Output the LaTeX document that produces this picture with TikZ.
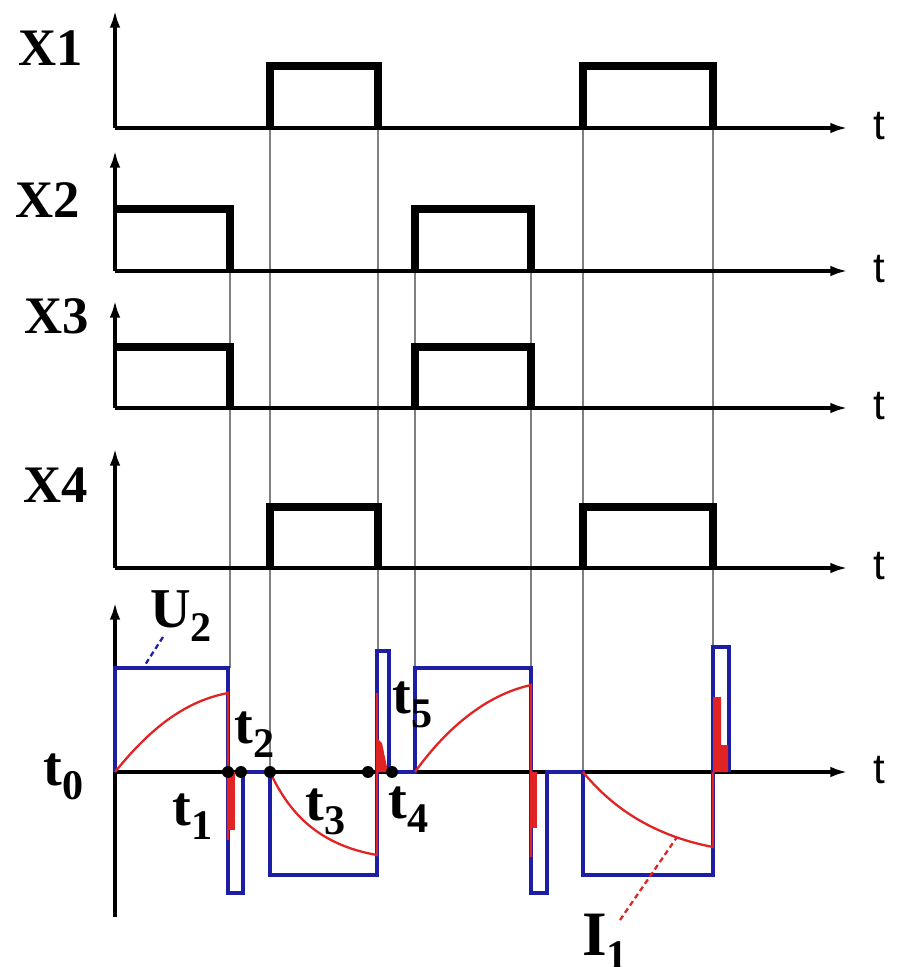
\documentclass[tikz,border=0pt]{standalone}
\usepackage{fontspec}
\setmainfont{Liberation Serif}
\setsansfont{Liberation Sans}
\usetikzlibrary{arrows.meta,calc}
\definecolor{ublue}{RGB}{30,30,165}
\definecolor{ired}{RGB}{225,35,35}
\newcommand{\lowsub}[1]{\raisebox{-8pt}{\fontsize{24}{24}\selectfont\bfseries #1}}
\newcommand{\TLBL}[2]{{\fontsize{32}{32}\selectfont\bfseries #1}\lowsub{#2}}

\begin{document}
\begin{tikzpicture}[x=0.02cm,y=-0.02cm,
    axis/.style={line width=2pt,-{Latex[length=10pt,width=6pt]}},
    pulse/.style={line width=4.5pt,line join=miter},
    guide/.style={line width=1.5pt,gray},
    volt/.style={line width=2pt,ublue},
    curr/.style={line width=1.3pt,ired},
    spike/.style={fill=ired,draw=none},
    xlbl/.style={anchor=base west,inner sep=0pt,font=\fontsize{30}{30}\selectfont\bfseries},
    tlbl/.style={anchor=base west,inner sep=0pt,font=\sffamily\fontsize{24}{24}\selectfont},
    klbl/.style={anchor=base west,inner sep=0pt}]
    \useasboundingbox (0,0) rectangle (899,967);

    % origins of the five charts
    \coordinate (o1) at (115,128);
    \coordinate (o2) at (115,271);
    \coordinate (o3) at (115,408);
    \coordinate (o4) at (115,568);
    \coordinate (o5) at (115,772);

    % thin guides from the switching edges down to the bottom chart
    \draw[guide] (230,271) -- (230,668);
    \draw[guide] (270,128) -- (270,772);
    \draw[guide] (378,128) -- (378,651);
    \draw[guide] (415,271) -- (415,668);
    \draw[guide] (531,271) -- (531,668);
    \draw[guide] (583,128) -- (583,772);
    \draw[guide] (713,128) -- (713,647);

    % axes
    \draw[axis] (o1) -- (115,10);
    \draw[axis] (o2) -- (115,150);
    \draw[axis] (o3) -- (115,300);
    \draw[axis] (o4) -- (115,448);
    \draw[axis] (115,917) -- (115,602);
    \foreach \c/\n in {o1/1,o2/2,o3/3,o4/4,o5/5} {
        \draw[axis] (\c) -- ($(\c)+(733,0)$) coordinate (e\n);
        \node[tlbl] (tx\n) at ($(e\n)+(25,11)$) {t};
    }

    % switch signals
    \draw[pulse] (270,128) -- (270,66) -- (378,66) -- (378,128);
    \draw[pulse] (583,128) -- (583,66) -- (713,66) -- (713,128);
    \draw[pulse] (115,209) -- (230,209) -- (230,271);
    \draw[pulse] (415,271) -- (415,209) -- (531,209) -- (531,271);
    \draw[pulse] (115,347) -- (230,347) -- (230,408);
    \draw[pulse] (415,408) -- (415,347) -- (531,347) -- (531,408);
    \draw[pulse] (270,568) -- (270,507) -- (378,507) -- (378,568);
    \draw[pulse] (583,568) -- (583,507) -- (713,507) -- (713,568);

    \node[xlbl] (x1) at (18,65) {X1};
    \node[xlbl] (x2) at (15,217) {X2};
    \node[xlbl] (x3) at (24,333) {X3};
    \node[xlbl] (x4) at (23,502) {X4};

    % output voltage
    \draw[volt] (o5) -- (115,668) -- (228,668) -- (228,893) -- (243,893) -- (243,772)
        -- (270,772) -- (270,875) -- (377,875) -- (377,651) -- (389,651) -- (389,772)
        -- (415,772) -- (415,668) -- (531,668) -- (531,893) -- (547,893) -- (547,772)
        -- (583,772) -- (583,875) -- (713,875) -- (713,647) -- (729,647) -- (729,772);

    % current
    \draw[curr] (o5) .. controls (145,735) and (180,702) .. (228,693) -- (228,840);
    \draw[curr] (270,772) .. controls (290,815) and (320,845) .. (377,855) -- (377,693);
    \draw[curr] (415,772) .. controls (445,730) and (485,695) .. (531,685) -- (531,857);
    \draw[curr] (583,772) .. controls (610,805) and (650,835) .. (713,847) -- (713,772);
    \fill[spike] (228,772) rectangle (235,830);
    \fill[spike] (376,772) -- (376,737) -- (382,743) -- (388,772) -- cycle;
    \fill[spike] (530,772) rectangle (537,828);
    \fill[spike] (713,772) -- (713,697) -- (721,697) -- (721,745) -- (728,745) -- (728,772) -- cycle;

    % leaders
    \draw[ublue,line width=1.3pt,densely dashed] (163,637) -- (143,668);
    \draw[ired,line width=1.3pt,densely dashed] (620,920) -- (677,837);

    % switching instants
    \foreach \x in {228,241,270,368,392} {
        \fill (\x,772) circle [radius=3.4pt];
    }

    \node[klbl] (lt0) at (43,785) {\TLBL{t}{0}};
    \node[klbl] (lt1) at (172,825) {\TLBL{t}{1}};
    \node[klbl] (lt2) at (234,743) {\TLBL{t}{2}};
    \node[klbl] (lt3) at (305,820) {\TLBL{t}{3}};
    \node[klbl] (lt4) at (388,818) {\TLBL{t}{4}};
    \node[klbl] (lt5) at (392,713) {\TLBL{t}{5}};
    \node[klbl] (lu2) at (150,627) {\TLBL{U}{2}};
    \node[klbl] (li1) at (582,955) {{\fontsize{36}{36}\selectfont\bfseries I}\lowsub{1}};
\end{tikzpicture}
\end{document}
